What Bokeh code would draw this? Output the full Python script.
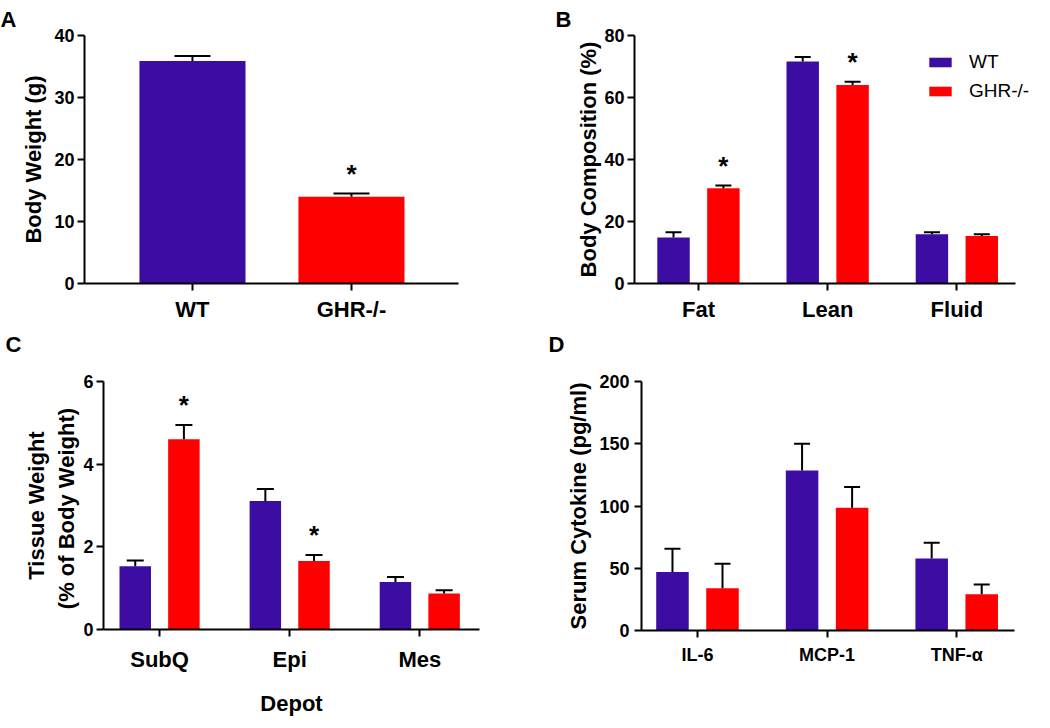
from bokeh.plotting import figure
from bokeh.models import (Range1d, FixedTicker, Whisker, TeeHead, ColumnDataSource,
                          Legend, LegendItem)
from bokeh.layouts import row, column
from bokeh.embed import file_html
from bokeh.resources import INLINE
from bokeh.core.properties import value

# ---------------- data ----------------
A_groups = ["WT", "GHR-/-"]
A_mean = [35.9, 14.0]
A_err = [0.8, 0.5]
A_sig = [False, True]

B_cats = ["Fat", "Lean", "Fluid"]
B_wt = [14.8, 71.6, 15.9]
B_wt_err = [1.7, 1.5, 0.6]
B_ko = [30.7, 64.0, 15.3]
B_ko_err = [0.9, 1.1, 0.6]
B_sig = [True, True, False]

C_cats = ["SubQ", "Epi", "Mes"]
C_wt = [1.53, 3.11, 1.15]
C_wt_err = [0.14, 0.29, 0.12]
C_ko = [4.60, 1.66, 0.87]
C_ko_err = [0.35, 0.14, 0.08]
C_sig = [True, True, False]

D_cats = ["IL-6", "MCP-1", "TNF-α"]
D_wt = [46.9, 128.5, 57.8]
D_wt_err = [18.7, 21.5, 12.6]
D_ko = [34.0, 98.6, 29.2]
D_ko_err = [19.6, 16.6, 7.7]
D_sig = [False, False, False]

FONT = "Liberation Sans"
WT_COLOR = "#3D0CA3"
KO_COLOR = "#FF0000"


def make_fig(fw, fh, bl, br, bt, bb, xr, yr, yticks, cats, ylabel,
             cat_size="22px", ls_y=5, xlabel=None, title="", t_off=0, t_stand=8,
             xbounds=None):
    p = figure(frame_width=fw, frame_height=fh,
               min_border_left=bl, min_border_right=br,
               min_border_top=bt, min_border_bottom=bb,
               x_range=Range1d(*xr), y_range=Range1d(*yr),
               output_backend="svg", toolbar_location=None, title=title)
    p.title.align = "left"
    p.title.offset = t_off
    p.title.standoff = t_stand
    p.title.text_font = FONT
    p.title.text_font_style = "bold"
    p.title.text_font_size = "22px"
    p.title.text_color = "black"
    p.outline_line_color = None
    p.xgrid.visible = False
    p.ygrid.visible = False
    p.background_fill_color = "white"
    for ax in (p.xaxis[0], p.yaxis[0]):
        ax.axis_line_width = 2
        ax.axis_line_color = "black"
        ax.major_tick_line_width = 2
        ax.major_tick_line_color = "black"
        ax.major_tick_in = 0
        ax.major_tick_out = 7
        ax.minor_tick_line_color = None
        ax.major_label_text_font = FONT
        ax.major_label_text_font_style = "bold"
        ax.major_label_text_color = "black"
        ax.axis_label_text_font = FONT
        ax.axis_label_text_font_style = "bold"
        ax.axis_label_text_color = "black"
        ax.axis_label_text_font_size = "22px"
    p.yaxis.ticker = FixedTicker(ticks=yticks)
    p.yaxis.major_label_text_font_size = "18px"
    p.yaxis.major_label_standoff = 3
    p.yaxis.axis_label = ylabel
    p.yaxis.axis_label_standoff = ls_y
    p.xaxis.ticker = FixedTicker(ticks=list(range(len(cats))))
    p.xaxis.major_label_overrides = {i: c for i, c in enumerate(cats)}
    p.xaxis.major_label_text_font_size = cat_size
    p.xaxis.major_label_standoff = 6
    if xbounds is not None:
        p.xaxis.bounds = xbounds
    if xlabel:
        p.xaxis.axis_label = xlabel
        p.xaxis.axis_label_standoff = 16
    return p


def add_bars(p, xs, vals, errs, color, width, cap):
    src = ColumnDataSource(dict(x=xs, top=vals,
                                hi=[v + e for v, e in zip(vals, errs)]))
    r = p.vbar(x="x", top="top", bottom=0, width=width, source=src,
               fill_color=color, line_color=None)
    w = Whisker(source=src, base="x", lower="top", upper="hi",
                line_width=2, line_color="black", level="overlay",
                upper_head=TeeHead(size=cap, line_width=2, line_color="black"),
                lower_head=None)
    p.add_layout(w)
    return r


def add_stars(p, xs, vals, errs, sig):
    sx = [x for x, s in zip(xs, sig) if s]
    sy = [v + e for v, e, s in zip(vals, errs, sig) if s]
    if sx:
        p.text(x=sx, y=sy, text=["*"] * len(sx), text_font=value(FONT),
               text_font_style="bold", text_font_size="26px",
               text_align="center", text_baseline="alphabetic", y_offset=-20,
               text_color="black")


def grouped(p, cats, wt, wt_err, ko, ko_err, sig, off, width, cap):
    idx = list(range(len(cats)))
    xw = [i - off for i in idx]
    xk = [i + off for i in idx]
    r1 = add_bars(p, xw, wt, wt_err, WT_COLOR, width, cap)
    r2 = add_bars(p, xk, ko, ko_err, KO_COLOR, width, cap)
    add_stars(p, xk, ko, ko_err, sig)
    return r1, r2


# ---------------- Panel A ----------------
pA = make_fig(374, 248, 84, 42, 35, 39, (-0.679, 1.673), (0, 40),
              [0, 10, 20, 30, 40], A_groups, "Body Weight (g)", ls_y=5,
              title="A", t_off=-84, t_stand=8)
idxA = list(range(len(A_groups)))
srcA = ColumnDataSource(dict(x=idxA, top=A_mean,
                             hi=[m + e for m, e in zip(A_mean, A_err)],
                             color=[WT_COLOR, KO_COLOR]))
pA.vbar(x="x", top="top", bottom=0, width=0.667, source=srcA,
        fill_color="color", line_color=None)
pA.add_layout(Whisker(source=srcA, base="x", lower="top", upper="hi",
                      line_width=2, line_color="black", level="overlay",
                      upper_head=TeeHead(size=36, line_width=2, line_color="black"),
                      lower_head=None))
add_stars(pA, idxA, A_mean, A_err, A_sig)

# ---------------- Panel B ----------------
pB = make_fig(400, 248, 134, 0, 35, 39, (-0.495, 2.601), (0, 80),
              [0, 20, 40, 60, 80], B_cats, "Body Composition (%)", ls_y=0,
              title="B", t_off=-79, t_stand=8, xbounds=(-0.495, 2.454))
rB1, rB2 = grouped(pB, B_cats, B_wt, B_wt_err, B_ko, B_ko_err, B_sig,
                   0.193, 0.251, 16)
legend = Legend(items=[LegendItem(label="WT", renderers=[rB1]),
                       LegendItem(label="GHR-/-", renderers=[rB2])],
                location=(292, 181), orientation="vertical",
                border_line_color=None, background_fill_alpha=0,
                padding=0, margin=0, glyph_width=28, glyph_height=12,
                label_standoff=15, label_height=22, spacing=7,
                label_text_font=FONT, label_text_font_size="19px",
                label_text_color="black")
pB.add_layout(legend)

# ---------------- Panel C ----------------
pC = make_fig(376, 248, 103, 21, 57, 85, (-0.431, 2.459), (0, 6),
              [0, 2, 4, 6], C_cats, "Tissue Weight\n(% of Body  Weight)",
              ls_y=1, xlabel="Depot", title="C\n ", t_off=-98, t_stand=0)
pC.xaxis.major_label_standoff = 10
grouped(pC, C_cats, C_wt, C_wt_err, C_ko, C_ko_err, C_sig, 0.187, 0.242, 17)

# ---------------- Panel D ----------------
pD = make_fig(373, 249, 141, 20, 53, 88, (-0.432, 2.446), (0, 200),
              [0, 50, 100, 150, 200], D_cats, "Serum Cytokine (pg/ml)",
              cat_size="18px", ls_y=5, title="D\n ", t_off=-93, t_stand=0)
pD.xaxis.major_label_standoff = 7
pD.yaxis.major_label_standoff = 5
grouped(pD, D_cats, D_wt, D_wt_err, D_ko, D_ko_err, D_sig, 0.193, 0.251, 16)

layout = column(row(pA, pB, spacing=0), row(pC, pD, spacing=0), spacing=0)

open("out.html", "w").write(file_html(layout, INLINE))
